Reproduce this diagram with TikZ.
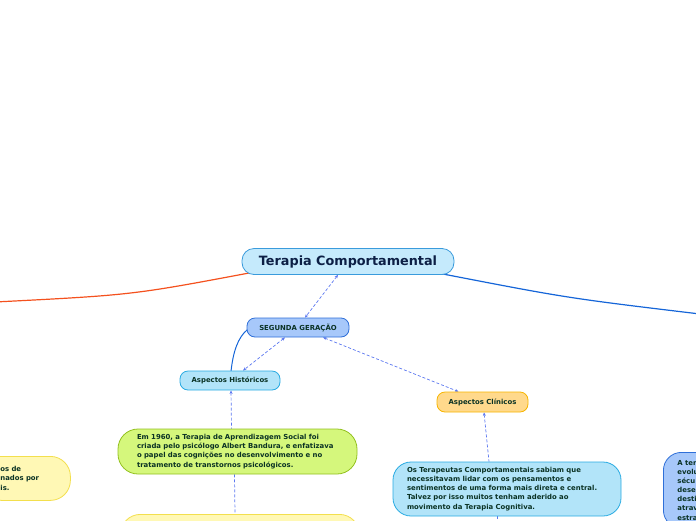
\documentclass[tikz,border=0pt]{standalone}
\usepackage{fontspec}
\setmainfont{DejaVu Sans}
\usepackage{tikz}
\usetikzlibrary{arrows.meta,positioning,calc}
\definecolor{mainfill}{RGB}{197, 234, 252}
\definecolor{mainline}{RGB}{58, 155, 220}
\definecolor{maintext}{RGB}{12, 31, 69}
\definecolor{genfill}{RGB}{167, 200, 250}
\definecolor{genline}{RGB}{47, 111, 216}
\definecolor{histfill}{RGB}{178, 228, 249}
\definecolor{histline}{RGB}{41, 171, 226}
\definecolor{clinfill}{RGB}{255, 217, 140}
\definecolor{clinline}{RGB}{247, 181, 0}
\definecolor{greenfill}{RGB}{213, 247, 124}
\definecolor{greenline}{RGB}{147, 193, 31}
\definecolor{yellowfill}{RGB}{255, 248, 181}
\definecolor{yellowline}{RGB}{243, 223, 77}
\definecolor{boxtext}{RGB}{10, 50, 36}
\definecolor{orangebranch}{RGB}{244, 81, 30}
\definecolor{bluebranch}{RGB}{21, 101, 216}
\definecolor{linkblue}{RGB}{91, 119, 240}
\pgfdeclarelayer{background}
\pgfsetlayers{background,main}
\tikzset{
  topicbox/.style={rounded corners=8pt, line width=0.8pt, text=boxtext,
    font=\fontsize{6.9}{8}\selectfont\bfseries, inner sep=0pt},
  notebox/.style={line width=0.8pt, text=boxtext, align=left,
    font=\fontsize{6.9}{9.1}\selectfont\bfseries, inner ysep=0pt},
  link/.style={linkblue, line width=0.7pt, dash pattern=on 3pt off 2pt},
  linktip/.style={link, {Stealth[length=3.5pt,width=3pt]}-{Stealth[length=3.5pt,width=3pt]}},
  branch/.style={line width=1.2pt}
}
\begin{document}
\begin{tikzpicture}[x=1pt, y=-1pt]
    \useasboundingbox (0,0) rectangle (696,520);
    \clip (0,0) rectangle (696,520);
    % central topic
    \node[rounded corners=12pt, fill=mainfill, draw=mainline, line width=0.8pt,
      text=maintext, font=\fontsize{12.8}{14}\selectfont\bfseries,
      minimum width=212pt, minimum height=26pt] (terapia) at (348,261.5) {Terapia Comportamental};
    \node[topicbox, fill=genfill, draw=genline, minimum width=102pt, minimum height=19pt]
      (segunda) at (298,327.5) {SEGUNDA GERAÇÃO};
    \node[topicbox, fill=histfill, draw=histline, minimum width=100pt, minimum height=19pt]
      (historicos) at (230,380.5) {Aspectos Históricos};
    \node[topicbox, fill=clinfill, draw=clinline, minimum width=91pt, minimum height=20pt]
      (clinicos) at (482.5,402) {Aspectos Clínicos};
    % notes
    \node[notebox, rounded corners=20pt, fill=greenfill, draw=greenline,
      text width=201pt, inner xsep=19pt, minimum height=45pt] (bandura) at (237.5,451.5)
      {Em 1960, a Terapia de Aprendizagem Social foi\\
       criada pelo psicólogo Albert Bandura, e enfatizava\\
       o papel das cognições no desenvolvimento e no\\
       tratamento de transtornos psicológicos.};
    \node[notebox, rounded corners=18pt, fill=histfill, draw=histline,
      text width=200pt, inner xsep=14pt, minimum height=54pt] (cognitiva) at (507,489)
      {Os Terapeutas Comportamentais sabiam que\\
       necessitavam lidar com os pensamentos e\\
       sentimentos de uma forma mais direta e central.\\
       Talvez por isso muitos tenham aderido ao\\
       movimento da Terapia Cognitiva.};
    \node[notebox, rounded corners=20pt, fill=yellowfill, draw=yellowline,
      minimum width=239pt, minimum height=44pt, anchor=north west] (social) at (120,514) {};
    \node[notebox, rounded corners=20pt, fill=yellowfill, draw=yellowline,
      text width=51pt, inner xsep=19pt, minimum height=44pt, anchor=north west] (ambiente) at (-19,456)
      {os de\\ nados por\\ is.};
    \node[notebox, rounded corners=18pt, fill=genfill, draw=genline,
      text width=212pt, inner xsep=14pt, inner ysep=8pt, anchor=north west] (evolucao) at (663,452)
      {A ter\\ evolu\\ sécu\\ dese\\ desti\\ atrav\\ estra};
    % free ends of the branches
    \coordinate (leftend) at (-5,302);
    \coordinate (rightend) at (700,314);
    \coordinate (downend) at (497,526);
    \begin{pgfonlayer}{background}
    \draw[branch, orangebranch] ($(terapia.south west)+(8,-2)$) .. controls (132,295) .. (leftend);
    \draw[branch, bluebranch] ($(terapia.south east)+(-12,-1)$) .. controls (567,298) .. (rightend);
    \draw[bluebranch, line width=1pt] ($(segunda.west)+(1,2)$) .. controls (238,337) and (233,352) .. ($(historicos.north)+(1,1)$);
    \draw[linktip] ($(terapia.south)+(-10,0)$) -- ($(segunda.north)+(7,0)$);
    \draw[linktip] ($(segunda.south)+(-13,0)$) -- ($(historicos.north)+(13,0)$);
    \draw[linktip] ($(segunda.south)+(25,0)$) -- ($(clinicos.north)+(-24,0)$);
    \draw[link, {Stealth[length=3.5pt,width=3pt]}-] ($(historicos.south)+(1,0)$) -- ($(bandura.north)+(-6,0)$);
    \draw[link] ($(bandura.south)+(-3,0)$) -- ($(social.north west)+(115,0)$);
    \draw[link, {Stealth[length=3.5pt,width=3pt]}-] ($(clinicos.south)+(1.5,0)$) -- ($(cognitiva.north)+(-18,0)$);
    \draw[link] ($(cognitiva.south)+(-10,0)$) -- (downend);
    \end{pgfonlayer}
\end{tikzpicture}
\end{document}
